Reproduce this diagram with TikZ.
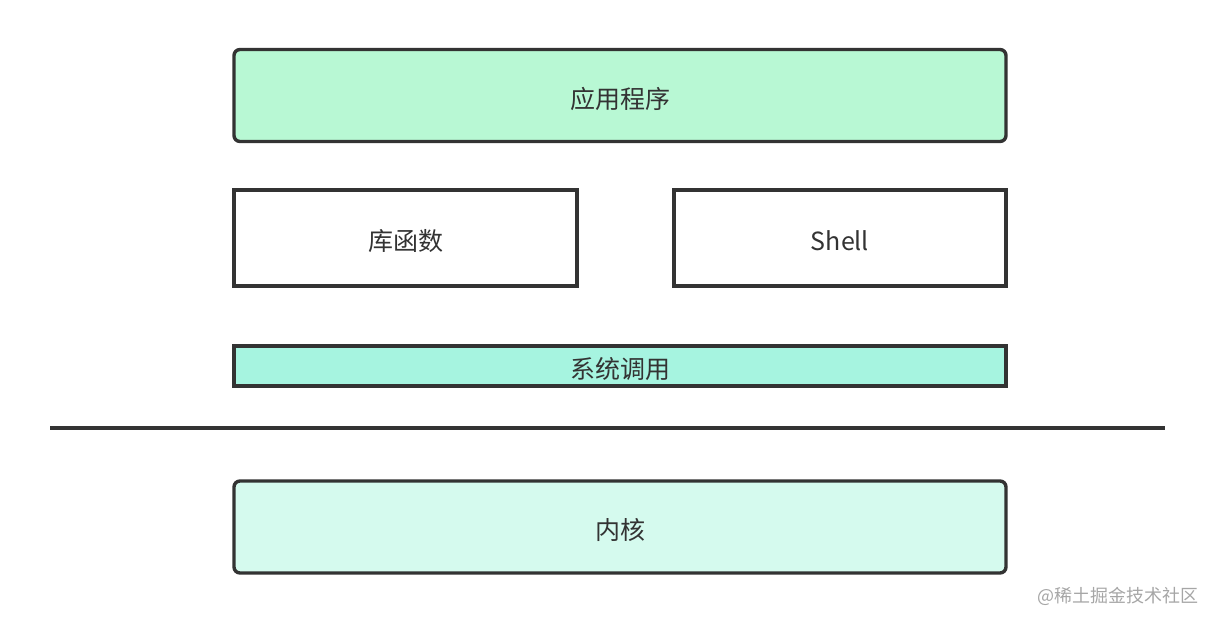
\documentclass[tikz,border=0pt]{standalone}
\usepackage{fontspec}
\setmainfont{Noto Sans CJK SC}
\usepackage{tikz}
\usetikzlibrary{positioning}
\definecolor{edgegray}{HTML}{333333}
\definecolor{appgreen}{HTML}{B8F8D4}
\definecolor{callgreen}{HTML}{A6F4E0}
\definecolor{kernelgreen}{HTML}{D5FAEE}
\tikzset{box text/.style={inner sep=0pt,text=edgegray,text height=13pt,text depth=0pt,
        font=\fontsize{12.5}{14}\selectfont},
    layer/.style={box text,draw=edgegray,line width=1.7pt,rounded corners=3pt,
        minimum width=386pt,minimum height=46pt},
    plain box/.style={box text,draw=edgegray,line width=1.7pt,fill=white,
        minimum height=48pt},
    thin layer/.style={box text,draw=edgegray,line width=1.7pt,fill=callgreen,
        minimum width=386pt,minimum height=20pt}}

\begin{document}
\begin{tikzpicture}[x=0.5pt,y=-0.5pt]
    \useasboundingbox (0,0) rectangle (1216,624);

    % User space
    \node[layer, fill=appgreen] (app) at (620,95.5) {应用程序};
    \node[plain box, minimum width=171.5pt] (lib) at (405.5,238) {库函数};
    \node[plain box, minimum width=166pt] (shell) at (840,238) {Shell};
    \node[thin layer] (syscall) at (620,366) {系统调用};

    % Boundary
    \coordinate (bl) at (50,428);
    \coordinate (br) at (1165,428);
    \draw[edgegray, line width=1.7pt] (bl) -- (br);

    % Kernel space
    \node[layer, fill=kernelgreen] (kernel) at (620,527) {内核};

    % Watermark
    \node[text=gray!70, font=\fontsize{9}{10}\selectfont] (mark) at (1118,596) {@稀土掘金技术社区};
\end{tikzpicture}
\end{document}
